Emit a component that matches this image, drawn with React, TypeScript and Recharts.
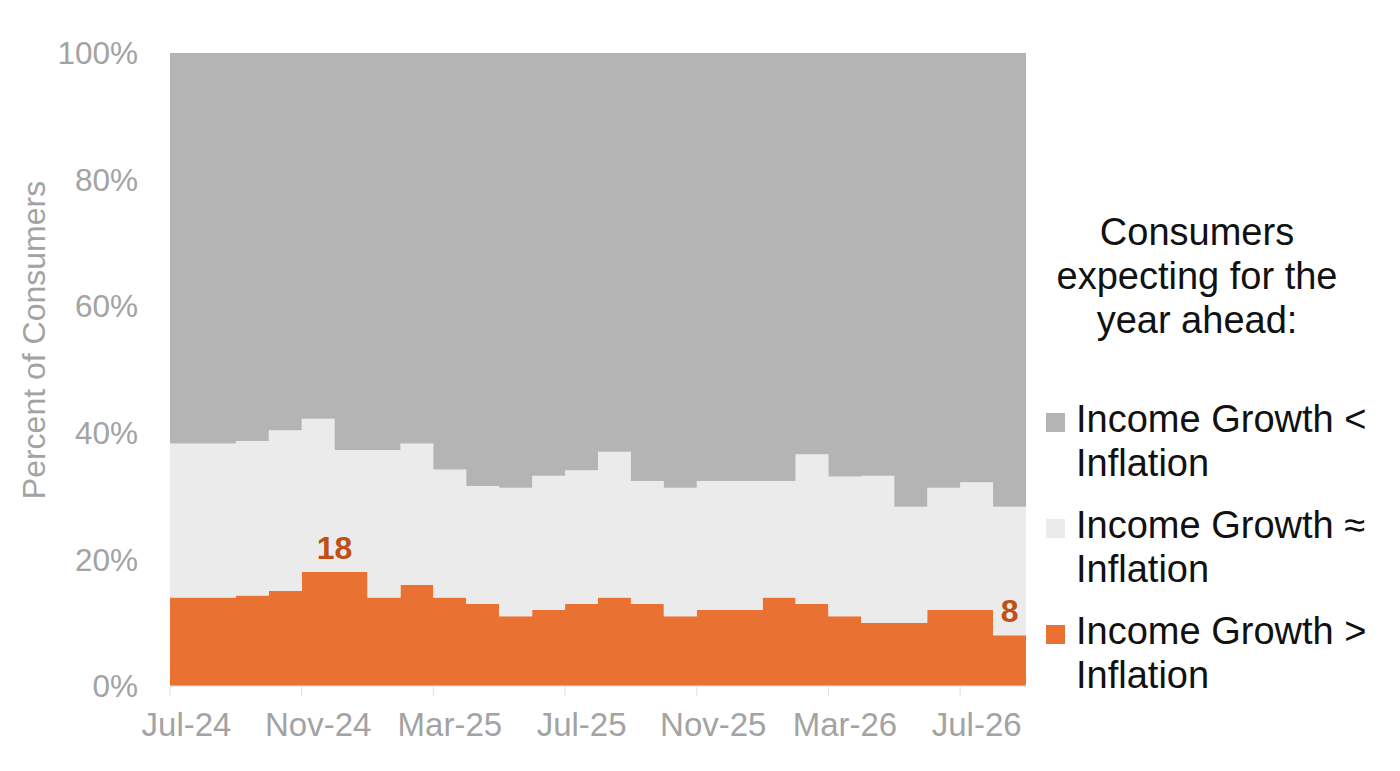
import { AreaChart, Area, XAxis, YAxis, ReferenceDot } from 'recharts';

const months = [
  'Jul-24', 'Aug-24', 'Sep-24', 'Oct-24', 'Nov-24', 'Dec-24',
  'Jan-25', 'Feb-25', 'Mar-25', 'Apr-25', 'May-25', 'Jun-25',
  'Jul-25', 'Aug-25', 'Sep-25', 'Oct-25', 'Nov-25', 'Dec-25',
  'Jan-26', 'Feb-26', 'Mar-26', 'Apr-26', 'May-26', 'Jun-26',
  'Jul-26', 'Aug-26',
];

// share of consumers, percent
const aboveInflation = [14, 14, 14.3, 15, 18, 18, 14, 16, 14, 13, 11, 12, 13, 14, 13, 11, 12, 12, 14, 13, 11, 10, 10, 12, 12, 8];
const matchInflation = [24.3, 24.3, 24.4, 25.4, 24.2, 19.3, 23.3, 22.3, 20.2, 18.6, 20.3, 21.2, 21.1, 23.0, 19.4, 20.3, 20.4, 20.4, 18.4, 23.6, 22.1, 23.2, 18.3, 19.3, 20.2, 20.3];
const belowInflation = [61.7, 61.7, 61.3, 59.6, 57.8, 62.7, 62.7, 61.7, 65.8, 68.4, 68.7, 66.8, 65.9, 63.0, 67.6, 68.7, 67.6, 67.6, 67.6, 63.4, 66.9, 66.8, 71.7, 68.7, 67.8, 71.7];

const xTicks = [0, 4, 8, 12, 16, 20, 24];
const yTicks = [0, 20, 40, 60, 80, 100];

const legendTitle = ['Consumers', 'expecting for the', 'year ahead:'];
const seriesNames = {
  below: ['Income Growth <', 'Inflation'],
  match: ['Income Growth \u2248', 'Inflation'],
  above: ['Income Growth >', 'Inflation'],
};

// months whose "above inflation" share gets a callout; mid = centre of the step
const callouts = [
  { month: 'Dec-24', mid: false },
  { month: 'Aug-26', mid: true },
];

const COLORS = {
  below: '#b4b4b4',
  match: '#ebebeb',
  above: '#e97132',
  callout: '#c04f15',
  tick: '#a3a3a3',
  axis: '#dedede',
};

const FONT = '"Liberation Sans", Arial, sans-serif';

const rows = months.map((m, i) => ({
  idx: i,
  month: m,
  above: aboveInflation[i],
  match: matchInflation[i],
  below: belowInflation[i],
}));
// repeat last month so the final step runs to the right edge
rows.push({ ...rows[rows.length - 1], idx: months.length });

const LegendBox = () => {
  const items = [
    { key: 'below', color: COLORS.below, lines: seriesNames.below },
    { key: 'match', color: COLORS.match, lines: seriesNames.match },
    { key: 'above', color: COLORS.above, lines: seriesNames.above },
  ];
  return (
    <>
      <div
        style={{
          position: 'absolute', left: 1030, top: 210, width: 334,
          textAlign: 'center', fontSize: 38, lineHeight: '44px', color: '#111',
          whiteSpace: 'nowrap',
        }}
      >
        {legendTitle.map(t => <div key={t}>{t}</div>)}
      </div>
      <div
        style={{
          position: 'absolute', left: 1046, top: 397,
          display: 'flex', flexDirection: 'column', gap: 18,
        }}
      >
        {items.map(it => (
          <div key={it.key} style={{ display: 'flex', alignItems: 'flex-start' }}>
            <div style={{ width: 19, height: 19, background: it.color, marginTop: 16, marginRight: 11 }} />
            <div style={{ fontSize: 38, lineHeight: '44px', color: '#111', whiteSpace: 'nowrap' }}>
              {it.lines.map(l => <div key={l}>{l}</div>)}
            </div>
          </div>
        ))}
      </div>
    </>
  );
};

export default function App() {
  return (
    <div style={{ position: 'absolute', left: 0, top: 0, width: 1400, height: 771, background: '#fff', fontFamily: FONT }}>
      <AreaChart
        width={1400}
        height={771}
        data={rows}
        margin={{ top: 53, right: 374, bottom: 25, left: 0 }}
      >
        <XAxis
          dataKey="idx"
          type="number"
          domain={[0, months.length]}
          ticks={xTicks}
          tickFormatter={(v: number) => months[v]}
          height={60}
          tickSize={10}
          tickMargin={17}
          tick={{ fill: COLORS.tick, fontSize: 33, fontFamily: FONT, dx: 16.5 }}
          tickLine={{ stroke: COLORS.axis }}
          axisLine={{ stroke: COLORS.axis }}
        />
        <YAxis
          domain={[0, 100]}
          ticks={yTicks}
          tickFormatter={(v: number) => `${v}%`}
          width={170}
          tickSize={6}
          tickMargin={26}
          axisLine={false}
          tickLine={false}
          tick={{ fill: COLORS.tick, fontSize: 31.5, fontFamily: FONT }}
          label={{
            value: 'Percent of Consumers',
            content: () => (
              <text
                x={34}
                y={340}
                transform="rotate(-90 34 340)"
                textAnchor="middle"
                dominantBaseline="central"
                fill={COLORS.tick}
                fontSize={32}
                fontFamily={FONT}
              >
                Percent of Consumers
              </text>
            ),
          }}
        />
        <Area type="stepAfter" dataKey="above" stackId="1" stroke="none" fill={COLORS.above} fillOpacity={1} isAnimationActive={false} />
        <Area type="stepAfter" dataKey="match" stackId="1" stroke="none" fill={COLORS.match} fillOpacity={1} isAnimationActive={false} />
        <Area type="stepAfter" dataKey="below" stackId="1" stroke="none" fill={COLORS.below} fillOpacity={1} isAnimationActive={false} />
        {callouts.map(c => {
          const i = months.indexOf(c.month);
          const v = aboveInflation[i];
          return (
            <ReferenceDot
              key={c.month}
              x={c.mid ? i + 0.5 : i}
              y={v}
              r={0}
              stroke="none"
              fill="none"
              label={{
                value: String(v),
                position: 'top',
                offset: 13,
                fill: COLORS.callout,
                fontSize: 32,
                fontWeight: 'bold',
                fontFamily: FONT,
              }}
            />
          );
        })}
      </AreaChart>
      <LegendBox />
    </div>
  );
}
